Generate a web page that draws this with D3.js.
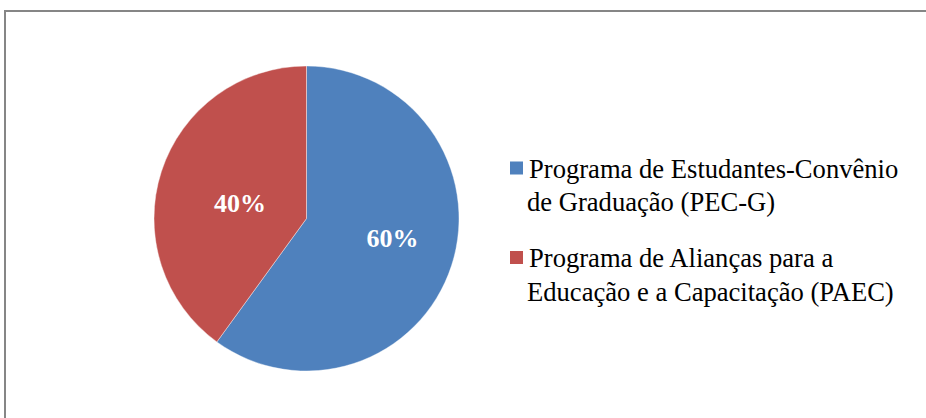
<!DOCTYPE html>
<html>
<head>
<meta charset="utf-8">
<script src="https://cdn.jsdelivr.net/npm/d3@7"></script>
<style>
  body { margin: 0; background: #fff; }
  svg { display: block; }
</style>
</head>
<body>
<div id="main"></div>
<script>
// chart data
const programs = ["PEC-G", "PAEC"];
const shares = [60, 40];
const legendLines = [
    ["Programa de Estudantes-Convênio", "de Graduação (PEC-G)"],
    ["Programa de Alianças para a", "Educação e a Capacitação (PAEC)"]
];

const ctx = {
    w: 926,
    h: 418,
    cx: 306.5,
    cy: 218.5,
    r: 152.5,
    FONT: '"Liberation Serif"',
    LABEL_ROT: -5 * Math.PI / 180, // excel nudges labels a bit counter-clockwise
};

const color = d3.scaleOrdinal()
                .domain(programs)
                .range(["#4F81BD", "#C0504D"]);

// label distance from centre, fraction of radius per slice
const labelK = [0.578, 0.448];

function labelPos(d, i){
    let a = (d.startAngle + d.endAngle) / 2 + ctx.LABEL_ROT;
    let k = labelK[i] * ctx.r;
    return [k * Math.sin(a), -k * Math.cos(a)];
}

function createViz(){
    let svgEl = d3.select("#main").append("svg")
                  .attr("width", ctx.w)
                  .attr("height", ctx.h);

    // chart frame (cut off at right / bottom)
    svgEl.append("rect")
         .attr("x", 5).attr("y", 11)
         .attr("width", ctx.w + 20).attr("height", ctx.h + 20)
         .attr("fill", "none")
         .attr("stroke", "#868686")
         .attr("stroke-width", 2);

    const pie = d3.pie().sort(null).value((d) => d);
    const arcs = pie(shares);
    const arcGen = d3.arc().innerRadius(0).outerRadius(ctx.r);

    let g = svgEl.append("g")
                 .attr("transform", `translate(${ctx.cx},${ctx.cy})`);

    g.selectAll("path")
     .data(arcs)
     .enter()
     .append("path")
     .attr("d", arcGen)
     .attr("fill", (d, i) => color(programs[i]))
     .attr("stroke", "#fff")
     .attr("stroke-opacity", 0.5)
     .attr("stroke-width", 0.8);

    g.selectAll("text")
     .data(arcs)
     .enter()
     .append("text")
     .attr("transform", (d, i) => `translate(${labelPos(d, i)})`)
     .attr("text-anchor", "middle")
     .attr("dy", "0.34em")
     .attr("fill", "#fff")
     .style("font-family", ctx.FONT)
     .style("font-weight", "bold")
     .style("font-size", "26px")
     .text((d) => d.data + "%");

    // legend
    let lg = svgEl.append("g").attr("id", "legend");
    let items = lg.selectAll("g")
                  .data(programs)
                  .enter()
                  .append("g")
                  .attr("transform", (d, i) => `translate(510,${177.5 + i * 89.5})`);

    items.append("rect")
         .attr("x", 0).attr("y", -16)
         .attr("width", 13).attr("height", 13)
         .attr("fill", (d) => color(d));

    let txt = items.append("text")
         .style("font-family", ctx.FONT)
         .style("font-size", "26.6px")
         .attr("fill", "#000");

    txt.selectAll("tspan")
       .data((d, i) => legendLines[i])
       .enter()
       .append("tspan")
       .attr("x", (d, j) => j == 0 ? 19 : 17)
       .attr("y", (d, j) => j * 33.5)
       .text((d) => d);
}

createViz();
</script>
</body>
</html>
